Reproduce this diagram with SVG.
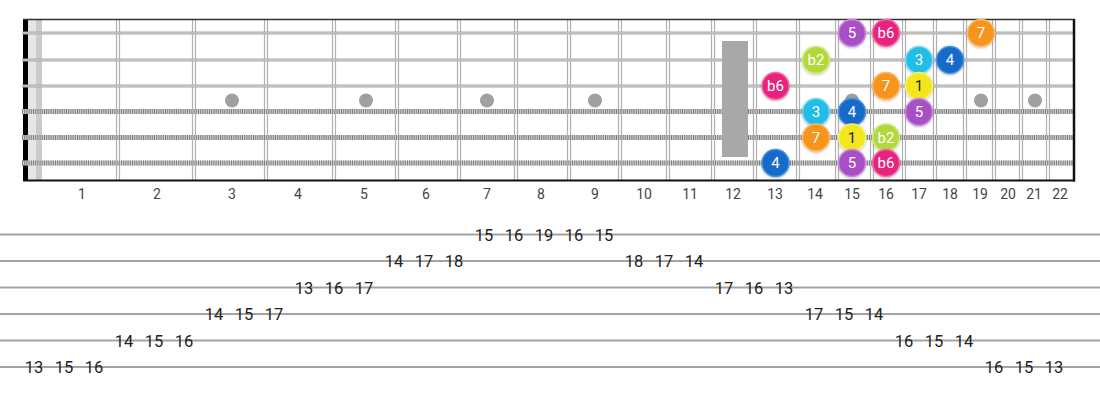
<svg xmlns="http://www.w3.org/2000/svg" width="1100" height="400" viewBox="0 0 1100 400">
<defs>
<style>
.fret{stroke:#b0b0b0;stroke-width:1.2}
.plain{stroke:#a9a9a9;stroke-width:3}
.plainhi{stroke:#d4d4d4;stroke-width:1}
.wound{stroke:#cfcfcf;stroke-width:5}
.hatch{stroke:#7c7c7c;stroke-width:5;stroke-dasharray:1 1.2}
.dot{fill:#a0a0a0}
.fnum{font-family:Roboto,"Liberation Sans",sans-serif;font-size:14px;fill:#444;text-anchor:middle}
.tab{stroke:#a3a3a3;stroke-width:2}
.tnum{font-family:Roboto,"Liberation Sans",sans-serif;font-size:16.5px;fill:#222;text-anchor:middle}
.note circle{stroke-width:1.5;filter:url(#sh)}
.note text{font-family:Roboto,"Liberation Sans",sans-serif;font-size:15px;fill:#fff;text-anchor:middle;dominant-baseline:central}
.i5 circle{fill:#a94fc6;stroke:#c98ae0}
.ib6 circle{fill:#e8237d;stroke:#f36ea8}
.i7 circle{fill:#f7941d;stroke:#fbba66}
.ib2 circle{fill:#b3d83a;stroke:#d2ea80}
.i3 circle{fill:#22bde6;stroke:#7cd9f1}
.i4 circle{fill:#176bc8;stroke:#4592e2}
.i1 circle{fill:#f3e61c;stroke:#f8ef78}
.i1 text{fill:#222}
</style>
<filter id="sh" x="-30%" y="-30%" width="160%" height="170%">
<feDropShadow dx="0" dy="1" stdDeviation="1" flood-color="#000" flood-opacity="0.25"/>
</filter>
</defs>
<rect width="1100" height="400" fill="#fff"/>

<g id="fretboard">
<rect x="28" y="20" width="8" height="160" fill="#e6e6e6"/>
<rect x="36" y="20" width="6" height="160" fill="#cbcbcb"/>
<g id="frets">
<line class="fret" x1="116.5" y1="20" x2="116.5" y2="180"/><line class="fret" x1="119.5" y1="20" x2="119.5" y2="180"/>
<line class="fret" x1="192.5" y1="20" x2="192.5" y2="180"/><line class="fret" x1="195.5" y1="20" x2="195.5" y2="180"/>
<line class="fret" x1="264.5" y1="20" x2="264.5" y2="180"/><line class="fret" x1="267.5" y1="20" x2="267.5" y2="180"/>
<line class="fret" x1="332.5" y1="20" x2="332.5" y2="180"/><line class="fret" x1="335.5" y1="20" x2="335.5" y2="180"/>
<line class="fret" x1="395.5" y1="20" x2="395.5" y2="180"/><line class="fret" x1="398.5" y1="20" x2="398.5" y2="180"/>
<line class="fret" x1="457.5" y1="20" x2="457.5" y2="180"/><line class="fret" x1="460.5" y1="20" x2="460.5" y2="180"/>
<line class="fret" x1="514.5" y1="20" x2="514.5" y2="180"/><line class="fret" x1="517.5" y1="20" x2="517.5" y2="180"/>
<line class="fret" x1="567.5" y1="20" x2="567.5" y2="180"/><line class="fret" x1="570.5" y1="20" x2="570.5" y2="180"/>
<line class="fret" x1="618.5" y1="20" x2="618.5" y2="180"/><line class="fret" x1="621.5" y1="20" x2="621.5" y2="180"/>
<line class="fret" x1="666.5" y1="20" x2="666.5" y2="180"/><line class="fret" x1="669.5" y1="20" x2="669.5" y2="180"/>
<line class="fret" x1="711.5" y1="20" x2="711.5" y2="180"/><line class="fret" x1="714.5" y1="20" x2="714.5" y2="180"/>
<line class="fret" x1="753.5" y1="20" x2="753.5" y2="180"/><line class="fret" x1="756.5" y1="20" x2="756.5" y2="180"/>
<line class="fret" x1="796.5" y1="20" x2="796.5" y2="180"/><line class="fret" x1="799.5" y1="20" x2="799.5" y2="180"/>
<line class="fret" x1="835.5" y1="20" x2="835.5" y2="180"/><line class="fret" x1="838.5" y1="20" x2="838.5" y2="180"/>
<line class="fret" x1="870.5" y1="20" x2="870.5" y2="180"/><line class="fret" x1="873.5" y1="20" x2="873.5" y2="180"/>
<line class="fret" x1="902.5" y1="20" x2="902.5" y2="180"/><line class="fret" x1="905.5" y1="20" x2="905.5" y2="180"/>
<line class="fret" x1="933.5" y1="20" x2="933.5" y2="180"/><line class="fret" x1="936.5" y1="20" x2="936.5" y2="180"/>
<line class="fret" x1="963.5" y1="20" x2="963.5" y2="180"/><line class="fret" x1="966.5" y1="20" x2="966.5" y2="180"/>
<line class="fret" x1="992.5" y1="20" x2="992.5" y2="180"/><line class="fret" x1="995.5" y1="20" x2="995.5" y2="180"/>
<line class="fret" x1="1019.5" y1="20" x2="1019.5" y2="180"/><line class="fret" x1="1022.5" y1="20" x2="1022.5" y2="180"/>
<line class="fret" x1="1046.5" y1="20" x2="1046.5" y2="180"/><line class="fret" x1="1049.5" y1="20" x2="1049.5" y2="180"/>
</g>
<g id="inlays">
<circle class="dot" cx="232" cy="100.5" r="7"/>
<circle class="dot" cx="366" cy="100.5" r="7"/>
<circle class="dot" cx="487" cy="100.5" r="7"/>
<circle class="dot" cx="595" cy="100.5" r="7"/>
<circle class="dot" cx="852" cy="100.5" r="7"/>
<circle class="dot" cx="981" cy="100.5" r="7"/>
<circle class="dot" cx="1035" cy="100.5" r="7"/>
</g>
<rect x="23" y="19" width="5" height="162" fill="#000"/>
<g id="strings">
<line class="plain" x1="22" y1="33" x2="1074" y2="33"/><line class="plainhi" x1="22" y1="33" x2="1074" y2="33"/>
<line class="plain" x1="22" y1="60" x2="1074" y2="60"/><line class="plainhi" x1="22" y1="60" x2="1074" y2="60"/>
<line class="plain" x1="22" y1="86" x2="1074" y2="86"/><line class="plainhi" x1="22" y1="86" x2="1074" y2="86"/>
<line class="wound" x1="22" y1="111.5" x2="1074" y2="111.5"/><line class="hatch" x1="22" y1="111.5" x2="1074" y2="111.5"/>
<line class="wound" x1="22" y1="137.5" x2="1074" y2="137.5"/><line class="hatch" x1="22" y1="137.5" x2="1074" y2="137.5"/>
<line class="wound" x1="22" y1="163" x2="1074" y2="163"/><line class="hatch" x1="22" y1="163" x2="1074" y2="163"/>
</g>
<rect x="722" y="41" width="26" height="116" fill="#a8a8a8"/>
<line x1="23" y1="19.5" x2="1075" y2="19.5" stroke="#333" stroke-width="1.5"/>
<line x1="23" y1="180.5" x2="1075" y2="180.5" stroke="#111" stroke-width="2"/>
<line x1="1074" y1="19" x2="1074" y2="181.5" stroke="#111" stroke-width="2.5"/>
</g>

<g id="notes">
<g id="n-s1-f15" class="note i5"><circle cx="852" cy="33" r="13.5"/><text x="852" y="33">5</text></g>
<g id="n-s1-f16" class="note ib6"><circle cx="886" cy="33" r="13.5"/><text x="886" y="33">b6</text></g>
<g id="n-s1-f19" class="note i7"><circle cx="981" cy="33" r="13.5"/><text x="981" y="33">7</text></g>
<g id="n-s2-f14" class="note ib2"><circle cx="816" cy="60" r="13.5"/><text x="816" y="60">b2</text></g>
<g id="n-s2-f17" class="note i3"><circle cx="919" cy="60" r="13.5"/><text x="919" y="60">3</text></g>
<g id="n-s2-f18" class="note i4"><circle cx="950" cy="60" r="13.5"/><text x="950" y="60">4</text></g>
<g id="n-s3-f13" class="note ib6"><circle cx="775.5" cy="86" r="13.5"/><text x="775.5" y="86">b6</text></g>
<g id="n-s3-f16" class="note i7"><circle cx="886" cy="86" r="13.5"/><text x="886" y="86">7</text></g>
<g id="n-s3-f17" class="note i1"><circle cx="919" cy="86" r="13.5"/><text x="919" y="86">1</text></g>
<g id="n-s4-f14" class="note i3"><circle cx="816" cy="112" r="13.5"/><text x="816" y="112">3</text></g>
<g id="n-s4-f15" class="note i4"><circle cx="852" cy="112" r="13.5"/><text x="852" y="112">4</text></g>
<g id="n-s4-f17" class="note i5"><circle cx="919" cy="112" r="13.5"/><text x="919" y="112">5</text></g>
<g id="n-s5-f14" class="note i7"><circle cx="816" cy="137.5" r="13.5"/><text x="816" y="137.5">7</text></g>
<g id="n-s5-f15" class="note i1"><circle cx="852" cy="137.5" r="13.5"/><text x="852" y="137.5">1</text></g>
<g id="n-s5-f16" class="note ib2"><circle cx="886" cy="137.5" r="13.5"/><text x="886" y="137.5">b2</text></g>
<g id="n-s6-f13" class="note i4"><circle cx="775.5" cy="163" r="13.5"/><text x="775.5" y="163">4</text></g>
<g id="n-s6-f15" class="note i5"><circle cx="852" cy="163" r="13.5"/><text x="852" y="163">5</text></g>
<g id="n-s6-f16" class="note ib6"><circle cx="886" cy="163" r="13.5"/><text x="886" y="163">b6</text></g>
</g>

<g id="fret-numbers" class="fnum">
<text x="82" y="199">1</text><text x="157" y="199">2</text><text x="232" y="199">3</text><text x="298" y="199">4</text>
<text x="364" y="199">5</text><text x="426" y="199">6</text><text x="487" y="199">7</text><text x="541" y="199">8</text>
<text x="595" y="199">9</text><text x="644" y="199">10</text><text x="690" y="199">11</text><text x="733" y="199">12</text>
<text x="775" y="199">13</text><text x="815" y="199">14</text><text x="852" y="199">15</text><text x="886" y="199">16</text>
<text x="919" y="199">17</text><text x="950" y="199">18</text><text x="980" y="199">19</text><text x="1008" y="199">20</text>
<text x="1034" y="199">21</text><text x="1060" y="199">22</text>
</g>

<g id="tab-lines">
<line class="tab" x1="0" y1="234.5" x2="1100" y2="234.5"/>
<line class="tab" x1="0" y1="261" x2="1100" y2="261"/>
<line class="tab" x1="0" y1="287.5" x2="1100" y2="287.5"/>
<line class="tab" x1="0" y1="314" x2="1100" y2="314"/>
<line class="tab" x1="0" y1="340.5" x2="1100" y2="340.5"/>
<line class="tab" x1="0" y1="367" x2="1100" y2="367"/>
</g>
<g id="tab-numbers" class="tnum">
<text x="34" y="373">13</text><text x="64" y="373">15</text><text x="94" y="373">16</text>
<text x="124" y="346.5">14</text><text x="154" y="346.5">15</text><text x="184" y="346.5">16</text>
<text x="214" y="320">14</text><text x="244" y="320">15</text><text x="274" y="320">17</text>
<text x="304" y="293.5">13</text><text x="334" y="293.5">16</text><text x="364" y="293.5">17</text>
<text x="394" y="267">14</text><text x="424" y="267">17</text><text x="454" y="267">18</text>
<text x="484" y="240.5">15</text><text x="514" y="240.5">16</text><text x="544" y="240.5">19</text><text x="574" y="240.5">16</text><text x="604" y="240.5">15</text>
<text x="634" y="267">18</text><text x="664" y="267">17</text><text x="694" y="267">14</text>
<text x="724" y="293.5">17</text><text x="754" y="293.5">16</text><text x="784" y="293.5">13</text>
<text x="814" y="320">17</text><text x="844" y="320">15</text><text x="874" y="320">14</text>
<text x="904" y="346.5">16</text><text x="934" y="346.5">15</text><text x="964" y="346.5">14</text>
<text x="994" y="373">16</text><text x="1024" y="373">15</text><text x="1054" y="373">13</text>
</g>
</svg>
